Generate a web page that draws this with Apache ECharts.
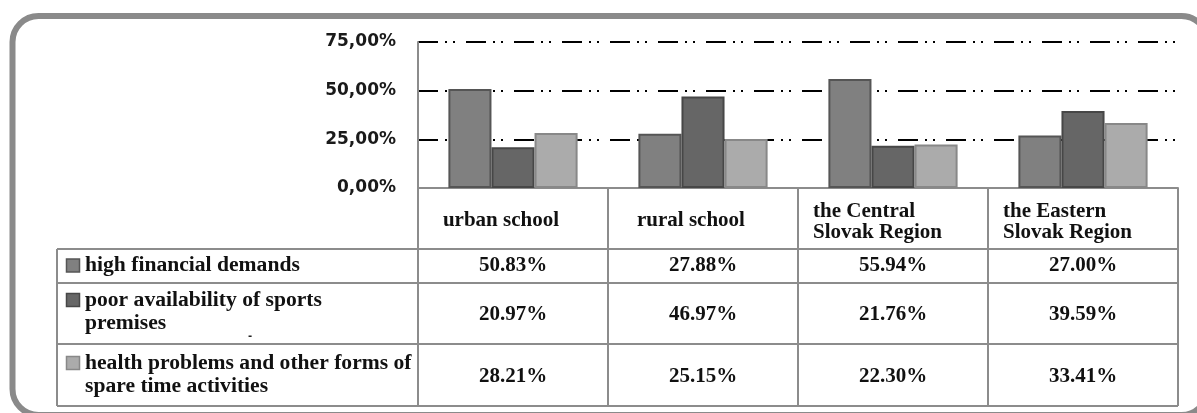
<!DOCTYPE html>
<html><head><meta charset="utf-8">
<script src="https://cdn.jsdelivr.net/npm/echarts@6/dist/echarts.min.js"></script>
<style>html,body{margin:0;padding:0;background:#fff}#c{width:1197px;height:413px}</style>
</head><body><div id="c"></div>
<script>
// ---- data ----
const categories = ['urban school', 'rural school', 'the Central\nSlovak Region', 'the Eastern\nSlovak Region'];
const seriesNames = ['high financial demands', 'poor availability of sports\npremises', 'health problems and other forms of\nspare time activities'];
const highFinancial = [50.83, 27.88, 55.94, 27.00];
const poorAvailability = [20.97, 46.97, 21.76, 39.59];
const healthProblems = [28.21, 25.15, 22.30, 33.41];
const yTicks = [0, 25, 50, 75];

// ---- styles / layout ----
const seriesValues = [highFinancial, poorAvailability, healthProblems];
const fills = ['#808080', '#666666', '#ababab'];
const borders = ['#555555', '#474747', '#888888'];
const lineGray = '#8c8c8c';
const serif = '"Liberation Serif", "Times New Roman", serif';
const sans = '"DejaVu Sans", Verdana, sans-serif';
const gridLeft = 418, gridRight = 1178, axisY = 188;
const rowLines = [249, 283, 344, 406];
const tableLeft = 57;
const valueMargins = [78, 127, 189];
const legendTextTop = [254, 288.5, 351.5];

const chart = echarts.init(document.getElementById('c'), null, {renderer: 'canvas'});

const xAxes = [{
  type: 'category', gridIndex: 0, position: 'bottom',
  data: categories.map(c => ({
    value: c,
    textStyle: {align: 'center', verticalAlign: 'middle', padding: c.includes('\n') ? [2, 24, 0, 0] : [0, 24, 0, 0]}
  })),
  axisLine: {show: true, lineStyle: {color: lineGray, width: 2}},
  axisTick: {show: true, length: rowLines[3] - axisY, lineStyle: {color: lineGray, width: 2}},
  axisLabel: {
    interval: 0, margin: 33, verticalAlign: 'middle', align: 'center',
    fontFamily: serif, fontWeight: 'bold', fontSize: 21, color: '#111', lineHeight: 21,
    formatter: v => v.includes('\n') ? v.split('\n').map(s => '{l|' + s + '}').join('\n') : v,
    rich: {l: {width: 136, align: 'left', fontFamily: serif, fontWeight: 'bold', fontSize: 21, color: '#111', lineHeight: 21}}
  },
  splitLine: {show: false}
}];
seriesValues.forEach((vals, k) => {
  xAxes.push({
    type: 'category', gridIndex: 0, position: 'bottom', data: categories,
    axisLine: {show: false}, axisTick: {show: false}, splitLine: {show: false},
    axisLabel: {
      interval: 0, margin: valueMargins[k], verticalAlign: 'middle', align: 'center',
      fontFamily: serif, fontWeight: 'bold', fontSize: 21, color: '#111',
      formatter: (v, i) => vals[i].toFixed(2) + '%'
    }
  });
});

const graphics = [{
  type: 'rect', z: -10, silent: true,
  shape: {x: 12.5, y: 16, width: 1195, height: 399, r: 26},
  style: {fill: 'none', stroke: '#8a8a8a', lineWidth: 6}
}];
rowLines.forEach(y => graphics.push({
  type: 'line', silent: true, shape: {x1: tableLeft, y1: y, x2: gridRight, y2: y},
  style: {stroke: lineGray, lineWidth: 2}
}));
graphics.push({
  type: 'line', silent: true, shape: {x1: tableLeft, y1: rowLines[0], x2: tableLeft, y2: rowLines[3]},
  style: {stroke: lineGray, lineWidth: 2}
});
seriesNames.forEach((name, k) => {
  const top = legendTextTop[k];
  graphics.push({
    type: 'rect', silent: true,
    shape: {x: 66.5, y: top + 11.5 - 6.5, width: 13, height: 13},
    style: {fill: fills[k], stroke: borders[k], lineWidth: 1.5}
  });
  graphics.push({
    type: 'text', silent: true, x: 85, y: top,
    style: {text: name, font: 'bold 21.6px ' + serif, fill: '#111', lineHeight: 23, verticalAlign: 'top', align: 'left'}
  });
});
graphics.push({
  type: 'text', silent: true, x: 248, y: 331,
  style: {text: '-', font: 'bold 10px ' + sans, fill: '#222'}
});

chart.setOption({
  animation: false,
  backgroundColor: '#fff',
  grid: {left: gridLeft, right: 1197 - gridRight, top: 42, bottom: 413 - axisY, containLabel: false},
  xAxis: xAxes,
  yAxis: {
    type: 'value', min: yTicks[0], max: yTicks[yTicks.length - 1], interval: yTicks[1] - yTicks[0],
    axisLine: {show: true, lineStyle: {color: lineGray, width: 2}},
    axisTick: {show: false},
    axisLabel: {
      margin: 22, fontFamily: sans, fontWeight: 'bold', fontSize: 17, color: '#1a1a1a',
      formatter: v => v.toFixed(2).replace('.', ',') + '%'
    },
    splitLine: {show: true, showMinLine: false, lineStyle: {color: '#000', width: 2, type: [20, 7, 2, 6, 2, 11]}}
  },
  legend: {show: false},
  series: seriesValues.map((vals, k) => ({
    type: 'bar', name: seriesNames[k], xAxisIndex: 0, yAxisIndex: 0,
    data: vals, barGap: '0%', barCategoryGap: '32%',
    itemStyle: {color: fills[k], borderColor: borders[k], borderWidth: 2},
    z: 3
  })),
  graphic: graphics
});
</script>
</body></html>
